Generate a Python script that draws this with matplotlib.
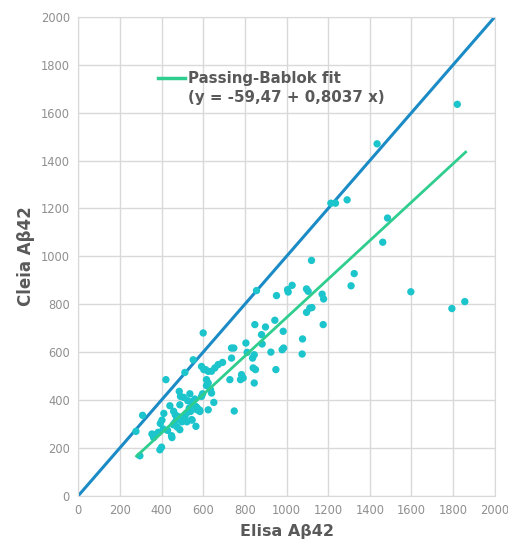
import matplotlib.pyplot as plt
from matplotlib.lines import Line2D

# values
elisa = [277, 296, 309, 421, 392, 400, 368, 384, 408, 411, 440, 429, 448, 456, 464,
         472, 480, 488, 491, 485, 475, 488, 504, 512, 520, 533, 539, 512, 552, 544,
         536, 549, 560, 565, 570, 565, 584, 600, 592, 603, 597, 592, 616, 624, 611,
         624, 616, 624, 635, 640, 651, 640, 656, 672, 693, 728, 749, 736, 747, 736,
         779, 792, 784, 805, 811, 837, 845, 840, 851, 845, 848, 856, 880, 883, 899,
         925, 949, 952, 944, 984, 979, 986, 1005, 1027, 1008, 1077, 1075, 1096, 1104,
         1096, 1112, 1120, 1213, 1235, 1291, 1485, 1462, 1325, 1310, 1171, 1178, 1597,
         1794, 1856, 1122, 1176, 1435, 1820,
         458, 466, 498, 506, 526, 547, 571, 583, 522, 547, 354, 362, 394, 402, 450]
cleia = [269, 167, 336, 485, 192, 203, 255, 265, 279, 344, 376, 273, 251, 297, 306,
         318, 331, 380, 415, 436, 287, 276, 320, 331, 345, 366, 352, 515, 568, 318,
         426, 394, 404, 373, 359, 290, 352, 680, 540, 527, 426, 415, 485, 471, 527,
         520, 460, 359, 443, 429, 390, 520, 534, 548, 557, 485, 354, 617, 617, 575,
         485, 492, 506, 638, 599, 575, 589, 534, 527, 471, 715, 857, 673, 634, 705,
         600, 527, 836, 733, 687, 610, 617, 861, 879, 851, 655, 592, 864, 854,
         766, 784, 983, 1222, 1222, 1236, 1160, 1059, 928, 877, 842, 822, 852,
         782, 811, 786, 715, 1470, 1635,
         353, 338, 309, 411, 397, 385, 367, 358, 309, 316, 258, 243, 302, 316, 243]

identity_x = [0, 2000]
fit_x = [280, 1860]
intercept = -59.47
slope = 0.8037

ticks = list(range(0, 2001, 200))

fig = plt.figure(figsize=(5.08, 5.46), dpi=100)
ax = fig.add_axes([0.154, 0.092, 0.82, 0.877])

ax.grid(True, color='#d9d9d9', linewidth=1)
ax.set_axisbelow(True)

ax.plot(identity_x, identity_x, color='#1b8bc6', linewidth=2.2, zorder=2)
ax.scatter(elisa, cleia, s=28, color='#1cc4cc', edgecolors='none', zorder=3)
fit_y = [intercept + slope * v for v in fit_x]
ax.plot(fit_x, fit_y, color='#2fcd8e', linewidth=2, zorder=4)

ax.set_xlim(0, 2000)
ax.set_ylim(0, 2000)
ax.set_xticks(ticks)
ax.set_yticks(ticks)
ax.tick_params(length=0, labelsize=8.3, labelcolor='#8f8f8f', pad=6)
for s in ax.spines.values():
    s.set_color('#d9d9d9')

ax.set_xlabel('Elisa Aβ42', fontsize=11.5, fontweight='bold', color='#595959', labelpad=5)
ax.set_ylabel('Cleia Aβ42', fontsize=12, fontweight='bold', color='#595959', labelpad=4)

handles = [Line2D([], [], color='#2fcd8e', linewidth=2.5),
           Line2D([], [], color='none')]
labels = ['Passing-Bablok fit', '(y = -59,47 + 0,8037 x)']
leg = ax.legend(handles, labels, loc='upper left', bbox_to_anchor=(0.16, 0.915),
                frameon=False, handlelength=1.75, handletextpad=0.2,
                labelspacing=0.25, prop={'weight': 'bold', 'size': 10.8})
for t in leg.get_texts():
    t.set_color('#595959')

fig.savefig('out.png', dpi=100)
